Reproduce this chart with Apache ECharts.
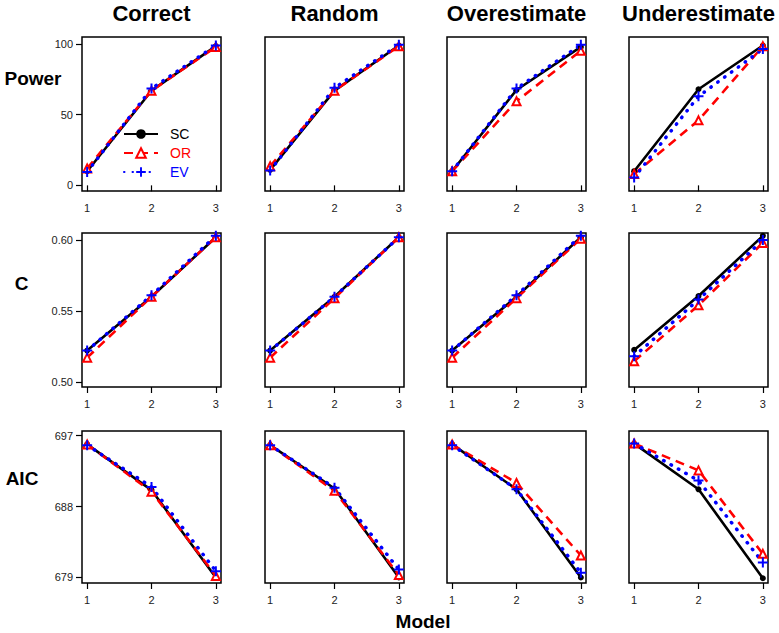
<!DOCTYPE html>
<html>
<head>
<meta charset="utf-8">
<script src="https://cdn.jsdelivr.net/npm/echarts@6/dist/echarts.min.js"></script>
<style>
html,body{margin:0;padding:0;background:#fff;}
#main{width:779px;height:633px;}
</style>
</head>
<body>
<div id="main"></div>
<script>
// ---------- DATA ----------
const models = [1, 2, 3];
const scenarios = ['Correct', 'Random', 'Overestimate', 'Underestimate'];
const metrics = ['Power', 'C', 'AIC'];
const methods = ['SC', 'OR', 'EV'];

// Power (one array of 3 models per scenario)
const powerSC = [[10, 67, 98.5], [11, 67, 99], [10, 67.5, 98], [10, 68, 99]];
const powerOR = [[12, 67, 98], [13.5, 67, 98.5], [10, 59.5, 95.3], [8, 46, 98.5]];
const powerEV = [[9.5, 68.5, 99], [10.5, 69, 99.5], [10, 68.5, 99.5], [5.5, 63, 96.5]];

// C statistic
const cSC = [[0.522, 0.560, 0.602], [0.522, 0.560, 0.602], [0.522, 0.560, 0.602], [0.5225, 0.5605, 0.603]];
const cOR = [[0.517, 0.560, 0.602], [0.517, 0.559, 0.602], [0.517, 0.559, 0.601], [0.5145, 0.554, 0.598]];
const cEV = [[0.522, 0.561, 0.603], [0.522, 0.560, 0.602], [0.522, 0.561, 0.603], [0.518, 0.558, 0.600]];

// AIC
const aicSC = [[695.9, 690.1, 679.0], [695.8, 690.3, 679.0], [695.9, 690.2, 679.0], [696.0, 690.2, 678.9]];
const aicOR = [[695.9, 689.9, 679.2], [695.8, 690.0, 679.3], [695.9, 691.0, 681.8], [696.0, 692.6, 682.0]];
const aicEV = [[695.8, 690.5, 679.8], [695.8, 690.4, 680.0], [695.8, 690.2, 679.6], [696.0, 691.3, 680.9]];

// tick labels
const powerTicks = [0, 50, 100];
const cTicks = [0.50, 0.55, 0.60];
const aicTicks = [679, 688, 697];
const modelTicks = [1, 2, 3];

// ---------- LAYOUT ----------
const FONT = '"Liberation Sans", Arial, sans-serif';
const colLeft = [82, 265, 447, 629];
const rowTop = [37, 233, 431];
const rowH = [154, 154, 152];
const panelW = 139;
const yRange = [[-4, 105], [0.4963, 0.605], [678.3, 697.6]];
const yTicks = [powerTicks, cTicks, aicTicks];
const yFmt = [v => String(v), v => v.toFixed(2), v => String(v)];
const dataByMetric = [
  {SC: powerSC, OR: powerOR, EV: powerEV},
  {SC: cSC, OR: cOR, EV: cEV},
  {SC: aicSC, OR: aicOR, EV: aicEV}
];

const plusPath = 'path://M4,0H6V4H10V6H6V10H4V6H0V4H4Z';
const styleOf = {
  SC: {color: '#000000', symbol: 'circle', symbolSize: 6, lineStyle: {color: '#000', width: 2.6, type: 'solid'},
       itemStyle: {color: '#000', borderWidth: 0}},
  OR: {color: '#ff0000', symbol: 'triangle', symbolSize: 8, lineStyle: {color: '#ff0000', width: 2.6, type: [9, 6]},
       itemStyle: {color: '#ffffff', borderColor: '#ff0000', borderWidth: 2}},
  EV: {color: '#0000ff', symbol: plusPath, symbolSize: 10, lineStyle: {color: '#0000ff', width: 3.5, type: [0.5, 8], cap: 'round'},
       itemStyle: {color: '#0000ff', borderWidth: 0}}
};

const grids = [], xAxes = [], yAxes = [], series = [];
let gi = 0;
for (let r = 0; r < 3; r++) {
  for (let c = 0; c < 4; c++) {
    grids.push({left: colLeft[c], top: rowTop[r], width: panelW, height: rowH[r], show: true,
      borderColor: '#000', borderWidth: 1.5, backgroundColor: 'transparent'});
    xAxes.push({gridIndex: gi, type: 'value', min: 0.92, max: 3.08,
      axisLine: {show: false}, splitLine: {show: false},
      axisTick: {show: true, customValues: modelTicks, length: 6, lineStyle: {color: '#000', width: 1.2}},
      axisLabel: {show: true, customValues: modelTicks, margin: 11, fontSize: 11, color: '#222', fontFamily: FONT,
        formatter: v => String(v)}});
    const showY = c === 0;
    yAxes.push({gridIndex: gi, type: 'value', min: yRange[r][0], max: yRange[r][1],
      axisLine: {show: false}, splitLine: {show: false},
      axisTick: {show: showY, customValues: yTicks[r], length: 6, lineStyle: {color: '#000', width: 1.2}},
      axisLabel: {show: showY, customValues: yTicks[r], margin: 9, fontSize: 11, color: '#222', fontFamily: FONT,
        formatter: yFmt[r]}});
    methods.forEach(m => {
      const vals = dataByMetric[r][m][c];
      const st = styleOf[m];
      series.push({name: m, type: 'line', xAxisIndex: gi, yAxisIndex: gi,
        data: models.map((x, k) => [x, vals[k]]),
        symbol: st.symbol, symbolSize: st.symbolSize, showAllSymbol: true,
        lineStyle: st.lineStyle, itemStyle: st.itemStyle, color: st.color,
        animation: false, silent: true, z: 2});
    });
    gi++;
  }
}

const graphics = [];
scenarios.forEach((s, c) => {
  graphics.push({type: 'text', x: colLeft[c] + panelW / 2, y: 13,
    style: {text: s, align: 'center', verticalAlign: 'middle', fill: '#000',
      font: 'bold 22px ' + FONT}});
});
const rowLabelX = [33, 21.5, 22];
const rowLabelY = [78, 283, 478];
metrics.forEach((m, r) => {
  graphics.push({type: 'text', x: rowLabelX[r], y: rowLabelY[r],
    style: {text: m, align: 'center', verticalAlign: 'middle', fill: '#000', font: 'bold 19px ' + FONT}});
});
graphics.push({type: 'text', x: 423, y: 621,
  style: {text: 'Model', align: 'center', verticalAlign: 'middle', fill: '#000', font: 'bold 19px ' + FONT}});

const option = {
  animation: false,
  backgroundColor: '#fff',
  grid: grids,
  xAxis: xAxes,
  yAxis: yAxes,
  series: series,
  graphic: graphics,
  legend: {
    orient: 'vertical', left: 123, top: 127, itemWidth: 34, itemHeight: 12, itemGap: 5,
    selectedMode: false, padding: 0,
    textStyle: {fontSize: 14, fontFamily: FONT, padding: [0, 0, 0, 7]},
    data: [
      {name: 'SC', textStyle: {color: '#000'}},
      {name: 'OR', textStyle: {color: '#ff0000'}},
      {name: 'EV', textStyle: {color: '#0000ff'}}
    ]
  }
};

const chart = echarts.init(document.getElementById('main'), null, {renderer: 'svg', width: 779, height: 633});
chart.setOption(option);
</script>
</body>
</html>
